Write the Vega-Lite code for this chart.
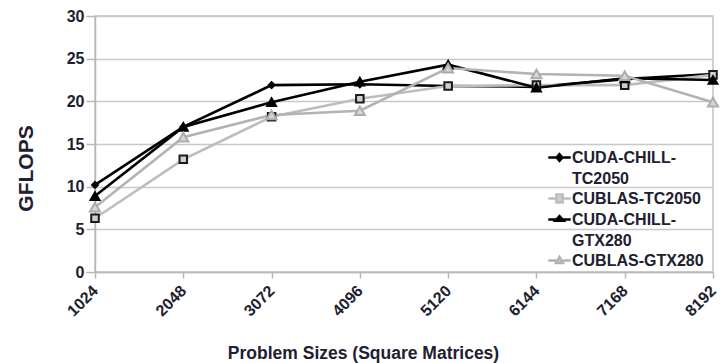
{
  "$schema": "https://vega.github.io/schema/vega-lite/v6.json",
  "width": 618,
  "height": 256,
  "autosize": {"type": "none"},
  "padding": {"left": 95, "top": 16, "right": 8, "bottom": 91},
  "background": "white",
  "config": {
    "font": "Liberation Sans",
    "view": {"stroke": "#c4c4c4", "strokeWidth": 1.5},
    "axis": {
      "labelFont": "Liberation Sans",
      "labelFontWeight": "bold",
      "labelFontSize": 16,
      "labelColor": "#202030",
      "titleFont": "Liberation Sans",
      "titleFontWeight": "bold",
      "titleColor": "#202030",
      "domainColor": "#b8b8b8",
      "domainWidth": 1.5,
      "tickColor": "#b8b8b8",
      "tickWidth": 1.5
    }
  },
  "data": {
    "values": [
      {"size": "1024", "series": "CUDA-CHILL-TC2050", "gflops": 10.2},
      {"size": "2048", "series": "CUDA-CHILL-TC2050", "gflops": 17.0},
      {"size": "3072", "series": "CUDA-CHILL-TC2050", "gflops": 21.9},
      {"size": "4096", "series": "CUDA-CHILL-TC2050", "gflops": 22.0},
      {"size": "5120", "series": "CUDA-CHILL-TC2050", "gflops": 21.8},
      {"size": "6144", "series": "CUDA-CHILL-TC2050", "gflops": 21.7},
      {"size": "7168", "series": "CUDA-CHILL-TC2050", "gflops": 22.6},
      {"size": "8192", "series": "CUDA-CHILL-TC2050", "gflops": 23.2},

      {"size": "1024", "series": "CUBLAS-TC2050", "gflops": 6.3},
      {"size": "2048", "series": "CUBLAS-TC2050", "gflops": 13.2},
      {"size": "3072", "series": "CUBLAS-TC2050", "gflops": 18.2},
      {"size": "4096", "series": "CUBLAS-TC2050", "gflops": 20.3},
      {"size": "5120", "series": "CUBLAS-TC2050", "gflops": 21.8},
      {"size": "6144", "series": "CUBLAS-TC2050", "gflops": 21.9},
      {"size": "7168", "series": "CUBLAS-TC2050", "gflops": 21.9},
      {"size": "8192", "series": "CUBLAS-TC2050", "gflops": 23.1},

      {"size": "1024", "series": "CUDA-CHILL-GTX280", "gflops": 8.9},
      {"size": "2048", "series": "CUDA-CHILL-GTX280", "gflops": 17.0},
      {"size": "3072", "series": "CUDA-CHILL-GTX280", "gflops": 19.9},
      {"size": "4096", "series": "CUDA-CHILL-GTX280", "gflops": 22.3},
      {"size": "5120", "series": "CUDA-CHILL-GTX280", "gflops": 24.3},
      {"size": "6144", "series": "CUDA-CHILL-GTX280", "gflops": 21.6},
      {"size": "7168", "series": "CUDA-CHILL-GTX280", "gflops": 22.7},
      {"size": "8192", "series": "CUDA-CHILL-GTX280", "gflops": 22.5},

      {"size": "1024", "series": "CUBLAS-GTX280", "gflops": 7.6},
      {"size": "2048", "series": "CUBLAS-GTX280", "gflops": 15.8},
      {"size": "3072", "series": "CUBLAS-GTX280", "gflops": 18.4},
      {"size": "4096", "series": "CUBLAS-GTX280", "gflops": 18.9},
      {"size": "5120", "series": "CUBLAS-GTX280", "gflops": 23.9},
      {"size": "6144", "series": "CUBLAS-GTX280", "gflops": 23.2},
      {"size": "7168", "series": "CUBLAS-GTX280", "gflops": 23.0},
      {"size": "8192", "series": "CUBLAS-GTX280", "gflops": 19.9}
    ]
  },
  "encoding": {
    "x": {
      "field": "size",
      "type": "ordinal",
      "scale": {"type": "point", "padding": 0},
      "axis": {
        "title": "Problem Sizes (Square Matrices)",
        "titleFontSize": 17.5,
        "titleX": 268,
        "labelAngle": -45,
        "labelAlign": "right",
        "labelBaseline": "middle",
        "labelPadding": 10,
        "tickSize": 6,
        "titlePadding": 26,
        "grid": false
      }
    },
    "y": {
      "field": "gflops",
      "type": "quantitative",
      "scale": {"domain": [0, 30], "nice": false},
      "axis": {
        "title": "GFLOPS",
        "titleFontSize": 21,
        "titleY": 152,
        "values": [0, 5, 10, 15, 20, 25, 30],
        "grid": true,
        "gridColor": "#c8c8c8",
        "gridWidth": 1.5,
        "tickSize": 9,
        "labelPadding": 2,
        "titlePadding": 30
      }
    }
  },
  "layer": [
    {
      "mark": {"type": "line", "strokeWidth": 2.6},
      "encoding": {
        "stroke": {
          "field": "series",
          "type": "nominal",
          "scale": {
            "domain": ["CUDA-CHILL-TC2050", "CUBLAS-TC2050", "CUDA-CHILL-GTX280", "CUBLAS-GTX280"],
            "range": ["#000000", "#bdbdbd", "#000000", "#b3b3b3"]
          },
          "legend": {
            "title": null,
            "orient": "none",
            "legendX": 455,
            "legendY": 132,
            "labelFont": "Liberation Sans",
            "labelFontWeight": "bold",
            "labelFontSize": 16,
            "labelColor": "#202030",
            "labelLimit": 220,
            "labelOffset": 3,
            "symbolStrokeWidth": 2.6,
            "symbolSize": 256,
            "rowPadding": 2,
            "labelExpr": "datum.label == 'CUDA-CHILL-TC2050' ? ['CUDA-CHILL-', 'TC2050'] : datum.label == 'CUDA-CHILL-GTX280' ? ['CUDA-CHILL-', 'GTX280'] : datum.label",
            "encode": {
              "symbols": {
                "update": {
                  "shape": {
                    "signal": "datum.value == 'CUDA-CHILL-TC2050' ? 'M-1.4,0H1.4M0,-0.4L0.35,0L0,0.4L-0.35,0Z' : datum.value == 'CUBLAS-TC2050' ? 'M-1.4,0H-0.4M0.4,0H1.4M-0.38,-0.5H0.38V0.5H-0.38Z' : datum.value == 'CUDA-CHILL-GTX280' ? 'M-1.4,0H1.4M-0.5,0.15L0,-0.4L0.5,0.15Z' : 'M-1.4,0H-0.42M0.42,0H1.4M-0.42,0.3L0,-0.42L0.42,0.3Z'"
                  },
                  "fill": {
                    "signal": "datum.value == 'CUBLAS-TC2050' ? '#d0d0d0' : datum.value == 'CUBLAS-GTX280' ? '#d6d6d6' : '#000000'"
                  },
                  "stroke": {
                    "signal": "datum.value == 'CUBLAS-TC2050' ? '#222222' : datum.value == 'CUBLAS-GTX280' ? '#b0b0b0' : '#000000'"
                  }
                }
              },
              "labels": {
                "update": {
                  "lineHeight": {"value": 21}
                }
              }
            }
          }
        }
      }
    },
    {
      "mark": {"type": "point", "filled": false, "opacity": 1, "strokeWidth": 2},
      "encoding": {
        "stroke": {
          "field": "series",
          "type": "nominal",
          "scale": {
            "domain": ["CUDA-CHILL-TC2050", "CUBLAS-TC2050", "CUDA-CHILL-GTX280", "CUBLAS-GTX280"],
            "range": ["#000000", "#1a1a1a", "#000000", "#acacac"]
          },
          "legend": null
        },
        "shape": {
          "field": "series",
          "type": "nominal",
          "scale": {
            "domain": ["CUDA-CHILL-TC2050", "CUBLAS-TC2050", "CUDA-CHILL-GTX280", "CUBLAS-GTX280"],
            "range": ["diamond", "square", "triangle-up", "triangle-up"]
          },
          "legend": null
        },
        "fill": {
          "field": "series",
          "type": "nominal",
          "scale": {
            "domain": ["CUDA-CHILL-TC2050", "CUBLAS-TC2050", "CUDA-CHILL-GTX280", "CUBLAS-GTX280"],
            "range": ["#000000", "#cfcfcf", "#000000", "#d6d6d6"]
          },
          "legend": null
        },
        "size": {
          "field": "series",
          "type": "nominal",
          "scale": {
            "domain": ["CUDA-CHILL-TC2050", "CUBLAS-TC2050", "CUDA-CHILL-GTX280", "CUBLAS-GTX280"],
            "range": [35, 100, 45, 50]
          },
          "legend": null
        }
      }
    }
  ],
  "resolve": {"scale": {"stroke": "independent"}, "legend": {"stroke": "independent"}}
}
